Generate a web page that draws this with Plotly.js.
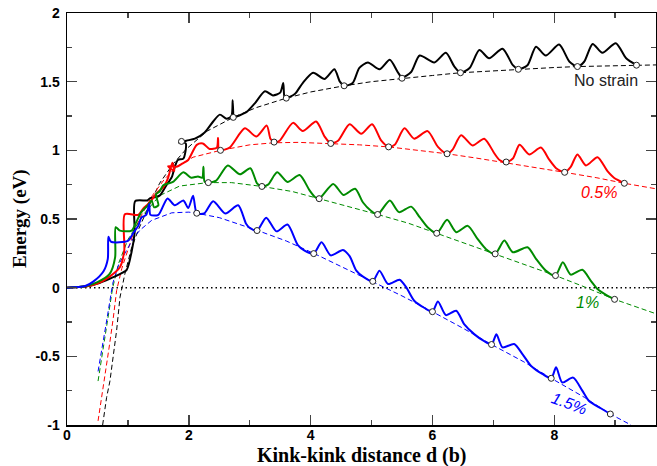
<!DOCTYPE html>
<html>
<head>
<meta charset="utf-8">
<script src="https://cdn.plot.ly/plotly-3.0.1.min.js"></script>
<style>html,body{margin:0;padding:0;background:#fff;}#chart{width:657px;height:466px;}</style>
</head>
<body>
<div id="chart"></div>
<script>
// ---- Solid curves (energy vs kink-kink distance) ----
var blackX = [0,0.3,0.5,0.7,0.85,0.98,1.06,1.11,1.12,1.32,1.36,1.52,1.63,1.72,1.77,1.82,1.91,1.95,1.86,1.84,1.96,2.10,2.26,2.40,2.51,2.62,2.70,2.72,2.73,2.73,2.95,3.08,3.25,3.38,3.50,3.55,3.57,3.60,3.74,3.87,4.04,4.23,4.39,4.48,4.55,4.69,4.80,4.94,5.13,5.30,5.43,5.50,5.65,5.79,6.03,6.22,6.36,6.46,6.61,6.77,6.93,7.15,7.32,7.41,7.56,7.70,7.86,8.08,8.25,8.38,8.49,8.63,8.79,9.01,9.18,9.35];
var blackY = [0,0.008,0.03,0.065,0.095,0.13,0.26,0.40,0.63,0.635,0.65,0.67,0.745,0.805,0.88,0.93,0.94,1.05,1.065,1.055,1.07,1.085,1.13,1.21,1.26,1.23,1.25,1.365,1.25,1.24,1.28,1.34,1.43,1.40,1.42,1.49,1.39,1.38,1.41,1.49,1.565,1.52,1.59,1.50,1.47,1.49,1.60,1.64,1.59,1.66,1.57,1.53,1.57,1.69,1.64,1.71,1.61,1.565,1.60,1.73,1.67,1.74,1.62,1.59,1.62,1.755,1.69,1.77,1.645,1.61,1.645,1.775,1.71,1.78,1.67,1.62];

var redX = [0,0.3,0.5,0.7,0.87,0.94,0.95,1.17,1.25,1.36,1.44,1.50,1.58,1.66,1.73,1.76,1.66,1.80,1.90,1.99,2.13,2.23,2.34,2.46,2.48,2.49,2.52,2.67,2.92,3.11,3.28,3.34,3.40,3.49,3.71,3.87,4.09,4.23,4.33,4.45,4.64,4.83,5.01,5.16,5.28,5.38,5.54,5.70,5.92,6.09,6.24,6.33,6.47,6.66,6.85,7.02,7.10,7.21,7.32,7.43,7.59,7.78,7.92,8.03,8.17,8.27,8.38,8.52,8.71,8.87,8.98,9.15];
var redY = [0,0.008,0.03,0.08,0.15,0.27,0.535,0.53,0.575,0.62,0.67,0.70,0.73,0.80,0.91,0.85,0.885,0.88,0.905,0.93,1.04,1.05,1.01,1.02,1.09,1.01,1.0,1.02,1.16,1.10,1.18,1.085,1.06,1.07,1.20,1.14,1.21,1.10,1.05,1.07,1.19,1.12,1.19,1.07,1.025,1.04,1.16,1.085,1.14,1.025,0.975,1.005,1.11,1.035,1.085,0.975,0.93,0.915,0.94,1.04,0.97,1.02,0.93,0.87,0.84,0.88,0.97,0.89,0.95,0.85,0.80,0.76];

var greenX = [0,0.3,0.5,0.7,0.79,0.80,0.87,1.06,1.14,1.22,1.33,1.39,1.43,1.50,1.46,1.52,1.58,1.74,1.91,2.04,2.15,2.22,2.24,2.26,2.32,2.45,2.64,2.84,3.01,3.12,3.20,3.30,3.45,3.62,3.82,3.98,4.07,4.14,4.37,4.54,4.73,4.86,4.99,5.10,5.30,5.45,5.65,5.79,5.92,6.07,6.24,6.39,6.58,6.74,6.88,7.03,7.18,7.32,7.56,7.70,7.86,8.02,8.14,8.27,8.46,8.60,8.71,8.85,8.99];
var greenY = [0,0.01,0.04,0.10,0.22,0.44,0.415,0.415,0.48,0.55,0.60,0.635,0.585,0.60,0.68,0.70,0.745,0.77,0.84,0.80,0.81,0.80,0.88,0.77,0.765,0.78,0.89,0.825,0.87,0.76,0.737,0.75,0.84,0.77,0.82,0.71,0.66,0.648,0.755,0.675,0.72,0.62,0.56,0.533,0.635,0.55,0.59,0.513,0.44,0.396,0.494,0.404,0.45,0.355,0.28,0.246,0.343,0.258,0.294,0.21,0.124,0.088,0.185,0.095,0.13,0.05,-0.01,-0.053,-0.085];

var blueX = [0,0.3,0.43,0.6,0.67,0.68,0.72,1.0,1.09,1.17,1.22,1.30,1.35,1.37,1.50,1.65,1.77,1.91,1.99,2.07,2.13,2.25,2.40,2.60,2.81,2.94,3.0,3.12,3.27,3.44,3.62,3.79,3.90,4.05,4.18,4.33,4.53,4.64,4.75,4.86,5.02,5.13,5.27,5.46,5.57,5.70,5.87,6.00,6.09,6.22,6.39,6.52,6.69,6.85,6.97,7.05,7.15,7.34,7.48,7.62,7.81,7.95,8.03,8.13,8.31,8.46,8.57,8.77,8.92];
var blueY = [0,0.012,0.044,0.12,0.21,0.37,0.335,0.34,0.40,0.45,0.51,0.53,0.61,0.53,0.53,0.65,0.60,0.635,0.58,0.67,0.542,0.54,0.63,0.54,0.60,0.465,0.435,0.416,0.51,0.41,0.46,0.31,0.27,0.248,0.33,0.235,0.275,0.23,0.124,0.08,0.046,0.124,0.027,0.058,0.002,-0.095,-0.148,-0.175,-0.10,-0.20,-0.168,-0.265,-0.34,-0.39,-0.414,-0.34,-0.435,-0.41,-0.485,-0.57,-0.63,-0.66,-0.58,-0.69,-0.655,-0.75,-0.825,-0.88,-0.92];

// ---- Dashed fit curves ----
var blackFitX = [0.585,0.65,0.705,0.76,0.815,0.87,0.95,1.06,1.18,1.31,1.52,1.74,1.96,2.3,2.73,3.1,3.6,4.0,4.55,5.0,5.5,6.0,6.46,7.0,7.41,8.0,8.38,9.0,9.35,9.67];
var blackFitY = [-1.0,-0.80,-0.68,-0.51,-0.31,-0.07,0.10,0.29,0.43,0.56,0.76,0.90,1.01,1.14,1.24,1.31,1.38,1.425,1.47,1.50,1.525,1.545,1.565,1.58,1.59,1.603,1.61,1.617,1.62,1.622];
var redFitX = [0.51,0.57,0.62,0.69,0.76,0.815,0.9,1.0,1.1,1.2,1.4,1.6,1.8,2.07,2.52,3.0,3.4,3.8,4.33,4.8,5.28,5.8,6.24,6.7,7.21,7.7,8.17,8.7,9.15,9.67];
var redFitY = [-0.97,-0.80,-0.63,-0.44,-0.22,-0.02,0.14,0.28,0.41,0.51,0.67,0.79,0.88,0.95,1.0,1.04,1.055,1.058,1.05,1.04,1.025,1.0,0.975,0.945,0.91,0.875,0.84,0.80,0.76,0.72];
var greenFitX = [0.51,0.57,0.64,0.705,0.75,0.85,1.0,1.25,1.52,1.85,2.31,2.7,3.2,3.7,4.14,4.6,5.1,5.6,6.07,6.5,7.03,7.5,8.02,8.5,8.99,9.67];
var greenFitY = [-0.68,-0.51,-0.31,-0.14,0.0,0.18,0.35,0.53,0.67,0.74,0.765,0.765,0.737,0.70,0.648,0.595,0.533,0.47,0.396,0.33,0.246,0.17,0.088,0.005,-0.085,-0.19];
var blueFitX = [0.51,0.57,0.64,0.705,0.75,0.85,0.98,1.09,1.2,1.39,1.72,2.0,2.13,2.5,3.13,3.6,4.07,4.5,5.02,5.5,6.0,6.5,6.97,7.5,7.95,8.5,8.92,9.26];
var blueFitY = [-0.61,-0.44,-0.27,-0.095,0.03,0.17,0.27,0.36,0.42,0.49,0.545,0.55,0.542,0.51,0.416,0.34,0.246,0.155,0.046,-0.06,-0.175,-0.295,-0.414,-0.54,-0.66,-0.8,-0.92,-1.0];

// ---- Open circle markers ----
var blackCircX = [1.88,2.73,3.60,4.55,5.50,6.46,7.41,8.38,9.35];
var blackCircY = [1.065,1.24,1.38,1.47,1.525,1.565,1.59,1.61,1.62];
var redCircX = [2.52,3.40,4.33,5.28,6.24,7.21,8.17,9.15];
var redCircY = [1.0,1.06,1.05,1.025,0.975,0.915,0.84,0.76];
var greenCircX = [2.32,3.20,4.14,5.10,6.07,7.03,8.02,8.99];
var greenCircY = [0.765,0.737,0.648,0.533,0.396,0.246,0.088,-0.085];
var blueCircX = [2.13,3.12,4.05,5.02,6.00,6.97,7.95,8.92];
var blueCircY = [0.542,0.416,0.248,0.046,-0.175,-0.414,-0.66,-0.92];

// ---- Labels ----
var seriesLabels = ['No strain','0.5%','1%','1.5%'];
var labelX = [8.85,8.74,8.54,8.24];
var labelY = [1.51,0.69,-0.106,-0.843];
var xTickVals = [0,2,4,6,8];
var xTickText = ['0','2','4','6','8'];
var yTickVals = [-1,-0.5,0,0.5,1,1.5,2];
var yTickText = ['-1','-0.5','0','0.5','1','1.5','2'];
var xTitle = 'Kink-kink distance d (b)';
var yTitle = 'Energy (eV)';

var cBlack = '#000000', cRed = '#ff0000', cGreen = 'rgb(0,139,0)', cBlue = '#0000ff';
var colors = [cBlack, cRed, cGreen, cBlue];

function fit(x, y, c) {
  return {x:x, y:y, type:'scatter', mode:'lines', hoverinfo:'skip',
          line:{color:c, width:1, dash:'5px,3px'}};
}
function solid(x, y, c) {
  return {x:x, y:y, type:'scatter', mode:'lines', hoverinfo:'skip',
          line:{color:c, width:2, shape:'spline', smoothing:0.7}};
}
function circ(x, y) {
  return {x:x, y:y, type:'scatter', mode:'markers', hoverinfo:'skip',
          marker:{symbol:'circle', size:6, color:'white', line:{color:'#222', width:1}}};
}

var data = [
  fit(blackFitX, blackFitY, cBlack), fit(redFitX, redFitY, cRed),
  fit(greenFitX, greenFitY, cGreen), fit(blueFitX, blueFitY, cBlue),
  solid(blackX, blackY, cBlack), solid(redX, redY, cRed),
  solid(greenX, greenY, cGreen), solid(blueX, blueY, cBlue),
  circ(blackCircX, blackCircY), circ(redCircX, redCircY),
  circ(greenCircX, greenCircY), circ(blueCircX, blueCircY)
];

var tickFont = {family:'Liberation Sans, Arial, sans-serif', size:14, weight:'bold', color:'#000'};
var titleFont = {family:'Liberation Serif, Times New Roman, serif', weight:'bold', color:'#000'};
var annotations = seriesLabels.map(function(t, i){
  return {x:labelX[i], y:labelY[i], text:t, showarrow:false, xanchor:'center', yanchor:'middle',
          textangle: i === 3 ? 20 : 0,
          font:{family:'Liberation Sans, Arial, sans-serif', size:16, color: i === 0 ? '#222' : colors[i],
                style: i === 0 ? 'normal' : 'italic'}};
});
annotations.push({xref:'paper', yref:'paper', x:0.5, y:0, yshift:-30, xanchor:'center', yanchor:'middle',
  showarrow:false, text:xTitle, font:Object.assign({size:20}, titleFont)});
annotations.push({xref:'paper', yref:'paper', x:0, y:0.5, xshift:-47, xanchor:'center', yanchor:'middle',
  showarrow:false, textangle:-90, text:yTitle, font:Object.assign({size:19}, titleFont)});

var layout = {
  width:657, height:466,
  margin:{l:67, r:1, t:13, b:41},
  paper_bgcolor:'white', plot_bgcolor:'white',
  showlegend:false,
  xaxis:{range:[0,9.67], tickmode:'array', tickvals:xTickVals, ticktext:xTickText,
         ticks:'inside', ticklen:10, tickwidth:1.5, tickcolor:'#444', ticklabelstandoff:-3,
         minor:{tickmode:'linear', tick0:0, dtick:1, ticks:'inside', ticklen:5, tickwidth:1.5, tickcolor:'#444'},
         showline:true, linecolor:'#000', linewidth:1.5, mirror:'ticks',
         showgrid:false, zeroline:false, tickfont:tickFont},
  yaxis:{range:[-1,2], tickmode:'array', tickvals:yTickVals, ticktext:yTickText,
         ticks:'inside', ticklen:10, tickwidth:1.5, tickcolor:'#444', ticklabelstandoff:3,
         minor:{tickmode:'linear', tick0:0, dtick:0.25, ticks:'inside', ticklen:5, tickwidth:1.5, tickcolor:'#444'},
         showline:true, linecolor:'#000', linewidth:1.5, mirror:'ticks',
         showgrid:false, zeroline:false, tickfont:tickFont},
  shapes:[{type:'line', xref:'paper', yref:'y', x0:0, x1:1, y0:0, y1:0, layer:'below',
           line:{color:'#000', width:1.5, dash:'1.5px,3px'}}],
  annotations:annotations
};

Plotly.newPlot('chart', data, layout, {staticPlot:true, displayModeBar:false});
</script>
</body>
</html>
